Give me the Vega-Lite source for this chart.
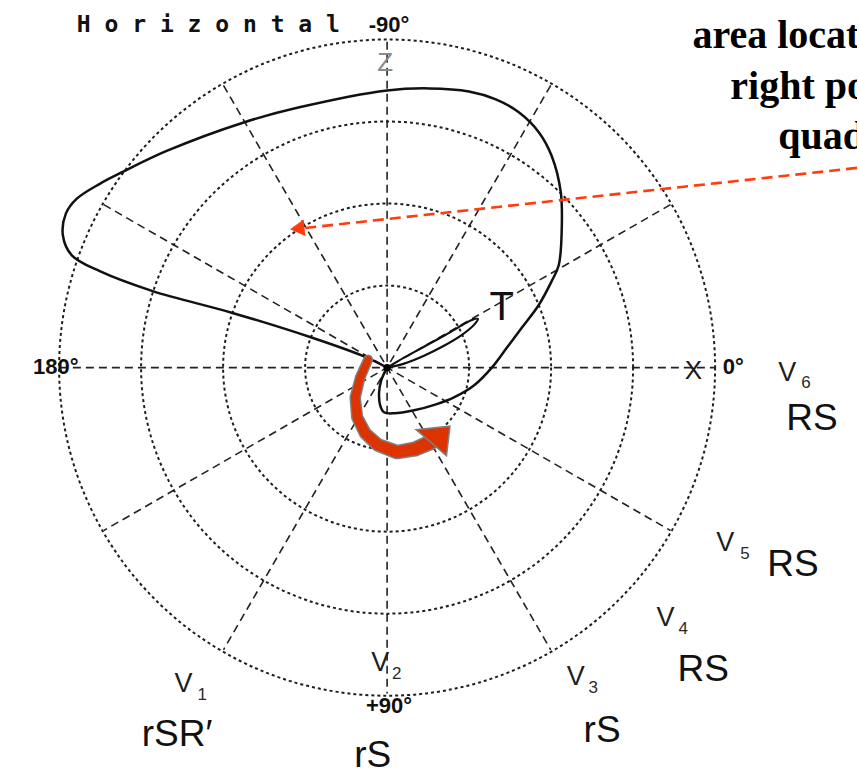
{
  "$schema": "https://vega.github.io/schema/vega-lite/v6.json",
  "width": 859,
  "height": 774,
  "autosize": {"type": "fit", "contains": "padding"},
  "padding": 0,
  "background": "white",
  "config": {"view": {"stroke": null}},
  "encoding": {
    "x": {"field": "x", "type": "quantitative", "axis": null,
          "scale": {"domain": [-4.732, 5.744], "nice": false, "zero": false}},
    "y": {"field": "y", "type": "quantitative", "axis": null,
          "scale": {"domain": [-4.512, 4.927], "reverse": true, "nice": false, "zero": false}}
  },
  "resolve": {"scale": {"size": "independent"}},
  "layer": [
    {
      "description": "Concentric magnitude rings",
      "data": {"values": [
        {"x": 0, "y": 0, "r": 1}, {"x": 0, "y": 0, "r": 2},
        {"x": 0, "y": 0, "r": 3}, {"x": 0, "y": 0, "r": 4}
      ]},
      "mark": {"type": "point", "shape": "circle", "filled": false, "stroke": "#1e1e1e",
               "strokeWidth": 2, "strokeDash": [3, 3], "opacity": 1},
      "encoding": {
        "size": {"field": "r", "type": "quantitative", "legend": null,
                 "scale": {"type": "pow", "exponent": 2, "domain": [0, 4], "range": [0, 430336]}}
      }
    },
    {
      "description": "Radial reference axes every 30 degrees",
      "data": {"values": [
        {"a": 0, "x": -4, "y": 0, "x2": 4, "y2": 0},
        {"a": 30, "x": -3.464, "y": -2, "x2": 3.464, "y2": 2},
        {"a": 60, "x": -2, "y": -3.464, "x2": 2, "y2": 3.464},
        {"a": 90, "x": 0, "y": -4, "x2": 0, "y2": 4},
        {"a": 120, "x": 2, "y": -3.464, "x2": -2, "y2": 3.464},
        {"a": 150, "x": 3.464, "y": -2, "x2": -3.464, "y2": 2}
      ]},
      "mark": {"type": "rule", "color": "#222222", "strokeWidth": 1.6, "strokeDash": [8, 5]},
      "encoding": {"x2": {"field": "x2"}, "y2": {"field": "y2"}}
    },
    {
      "description": "QRS loop",
      "data": {"values": [
        {"i": 1, "x": 0, "y": 0},
        {"i": 2, "x": -0.305, "y": -0.146},
        {"i": 3, "x": -0.915, "y": -0.366},
        {"i": 4, "x": -1.89, "y": -0.671},
        {"i": 5, "x": -2.866, "y": -0.939},
        {"i": 6, "x": -3.512, "y": -1.183},
        {"i": 7, "x": -3.854, "y": -1.378},
        {"i": 8, "x": -3.963, "y": -1.622},
        {"i": 9, "x": -3.927, "y": -1.89},
        {"i": 10, "x": -3.793, "y": -2.073},
        {"i": 11, "x": -3.512, "y": -2.256},
        {"i": 12, "x": -3.232, "y": -2.402},
        {"i": 13, "x": -2.695, "y": -2.659},
        {"i": 14, "x": -1.744, "y": -3.012},
        {"i": 15, "x": -1.073, "y": -3.195},
        {"i": 16, "x": 0, "y": -3.402},
        {"i": 17, "x": 0.512, "y": -3.427},
        {"i": 18, "x": 1.0, "y": -3.39},
        {"i": 19, "x": 1.329, "y": -3.293},
        {"i": 20, "x": 1.61, "y": -3.134},
        {"i": 21, "x": 1.854, "y": -2.89},
        {"i": 22, "x": 2.012, "y": -2.598},
        {"i": 23, "x": 2.122, "y": -2.159},
        {"i": 24, "x": 2.134, "y": -1.671},
        {"i": 25, "x": 2.098, "y": -1.256},
        {"i": 26, "x": 2.012, "y": -1.061},
        {"i": 27, "x": 1.854, "y": -0.768},
        {"i": 28, "x": 1.646, "y": -0.488},
        {"i": 29, "x": 1.463, "y": -0.244},
        {"i": 30, "x": 1.28, "y": 0},
        {"i": 31, "x": 1.061, "y": 0.22},
        {"i": 32, "x": 0.817, "y": 0.366},
        {"i": 33, "x": 0.598, "y": 0.451},
        {"i": 34, "x": 0.329, "y": 0.524},
        {"i": 35, "x": 0.085, "y": 0.561},
        {"i": 36, "x": -0.037, "y": 0.549},
        {"i": 37, "x": -0.085, "y": 0.463},
        {"i": 38, "x": -0.098, "y": 0.305},
        {"i": 39, "x": -0.073, "y": 0.159},
        {"i": 40, "x": 0, "y": 0}
      ]},
      "mark": {"type": "line", "color": "#111111", "strokeWidth": 2.5, "interpolate": "catmull-rom"},
      "encoding": {"order": {"field": "i", "type": "quantitative"}}
    },
    {
      "description": "T loop",
      "data": {"values": [
        {"i": 1, "x": 0, "y": 0},
        {"i": 2, "x": 0.207, "y": -0.122},
        {"i": 3, "x": 0.451, "y": -0.256},
        {"i": 4, "x": 0.695, "y": -0.39},
        {"i": 5, "x": 0.902, "y": -0.512},
        {"i": 6, "x": 1.037, "y": -0.585},
        {"i": 7, "x": 1.11, "y": -0.598},
        {"i": 8, "x": 1.073, "y": -0.537},
        {"i": 9, "x": 0.915, "y": -0.402},
        {"i": 10, "x": 0.695, "y": -0.268},
        {"i": 11, "x": 0.451, "y": -0.146},
        {"i": 12, "x": 0.207, "y": -0.049},
        {"i": 13, "x": 0, "y": 0}
      ]},
      "mark": {"type": "line", "color": "#111111", "strokeWidth": 2.2, "interpolate": "catmull-rom"},
      "encoding": {"order": {"field": "i", "type": "quantitative"}}
    },
    {
      "description": "Origin",
      "data": {"values": [{"x": 0, "y": 0}]},
      "mark": {"type": "point", "shape": "circle", "filled": true, "color": "#000000", "size": 55, "opacity": 1}
    },
    {
      "description": "Pointer to the loop area",
      "data": {"values": [{"x": 5.744, "y": -2.451, "x2": -1.012, "y2": -1.713}]},
      "mark": {"type": "rule", "color": "#ff3b0f", "strokeWidth": 2.6, "strokeDash": [11, 6]},
      "encoding": {"x2": {"field": "x2"}, "y2": {"field": "y2"}}
    },
    {
      "data": {"values": [{"x": -1.098, "y": -1.707}]},
      "mark": {"type": "point", "shape": "triangle-left", "filled": true, "color": "#ff3b0f",
               "size": 280, "angle": 354, "opacity": 1}
    },
    {
      "description": "Rotation arrow outline",
      "data": {"name": "turn", "values": [
        {"i": 1, "x": -0.232, "y": -0.098},
        {"i": 2, "x": -0.329, "y": 0.122},
        {"i": 3, "x": -0.39, "y": 0.366},
        {"i": 4, "x": -0.366, "y": 0.61},
        {"i": 5, "x": -0.268, "y": 0.805},
        {"i": 6, "x": -0.11, "y": 0.951},
        {"i": 7, "x": 0.122, "y": 1.037},
        {"i": 8, "x": 0.341, "y": 1.0},
        {"i": 9, "x": 0.537, "y": 0.915}
      ]},
      "mark": {"type": "trail", "color": "#7f7f7f"},
      "encoding": {
        "order": {"field": "i", "type": "quantitative"},
        "size": {"field": "i", "type": "quantitative", "legend": null,
                 "scale": {"domain": [1, 9], "range": [10, 16]}}
      }
    },
    {
      "data": {"name": "turn"},
      "mark": {"type": "trail", "color": "#dd3300"},
      "encoding": {
        "order": {"field": "i", "type": "quantitative"},
        "size": {"field": "i", "type": "quantitative", "legend": null,
                 "scale": {"domain": [1, 9], "range": [7, 13]}}
      }
    },
    {
      "data": {"values": [{"x": 0.634, "y": 0.854}]},
      "mark": {"type": "point", "shape": "M -0.92 -0.3 L 0.44 -0.44 L 0.3 0.74 Z", "filled": true,
               "fill": "#dd3300", "stroke": "#7f7f7f", "strokeWidth": 1.5, "size": 2500, "opacity": 1}
    },
    {
      "description": "Plane title",
      "data": {"values": [{"x": -3.793, "y": -4.122, "t": "H o r i z o n t a l"}]},
      "mark": {"type": "text", "align": "left", "baseline": "alphabetic", "font": "DejaVu Sans Mono",
               "fontWeight": "bold", "fontSize": 23, "color": "#111111"},
      "encoding": {"text": {"field": "t"}}
    },
    {
      "description": "Angle labels",
      "data": {"values": [
        {"x": 0.024, "y": -4.122, "t": "-90°", "a": "center"},
        {"x": -4.049, "y": 0.073, "t": "180°", "a": "right"},
        {"x": 4.232, "y": 0.073, "t": "0°", "a": "left"},
        {"x": 0.024, "y": 4.244, "t": "+90°", "a": "center"}
      ]},
      "mark": {"type": "text", "baseline": "alphabetic", "font": "Liberation Sans",
               "fontWeight": "bold", "fontSize": 22, "color": "#111111"},
      "encoding": {"text": {"field": "t"}, "align": {"field": "a"}}
    },
    {
      "description": "Axis letters",
      "data": {"values": [
        {"x": -0.024, "y": -3.646, "t": "Z", "c": "z"},
        {"x": 3.744, "y": 0.146, "t": "X", "c": "x"}
      ]},
      "mark": {"type": "text", "align": "center", "baseline": "alphabetic", "font": "Liberation Sans",
               "fontSize": 26},
      "encoding": {
        "text": {"field": "t"},
        "color": {"field": "c", "type": "nominal", "legend": null,
                  "scale": {"domain": ["z", "x"], "range": ["#8a8a8a", "#1a1a1a"]}}
      }
    },
    {
      "data": {"values": [{"x": 1.402, "y": -0.585, "t": "T"}]},
      "mark": {"type": "text", "align": "center", "baseline": "alphabetic", "font": "Liberation Sans",
               "fontSize": 40, "color": "#111111"},
      "encoding": {"text": {"field": "t"}}
    },
    {
      "description": "Callout text",
      "data": {"values": [
        {"x": 3.732, "y": -3.927, "t": "area located in the"},
        {"x": 4.195, "y": -3.293, "t": "right posterior"},
        {"x": 4.78, "y": -2.683, "t": "quadrant"}
      ]},
      "mark": {"type": "text", "align": "left", "baseline": "alphabetic", "font": "Liberation Serif",
               "fontWeight": "bold", "fontSize": 40, "color": "#000000", "clip": true},
      "encoding": {"text": {"field": "t"}}
    },
    {
      "description": "Precordial lead names",
      "data": {"values": [
        {"x": 4.78, "y": 0.159, "t": "V"},
        {"x": 4.024, "y": 2.256, "t": "V"},
        {"x": 3.293, "y": 3.171, "t": "V"},
        {"x": 2.195, "y": 3.902, "t": "V"},
        {"x": -0.195, "y": 3.72, "t": "V"},
        {"x": -2.598, "y": 3.988, "t": "V"}
      ]},
      "mark": {"type": "text", "align": "left", "baseline": "alphabetic", "font": "Liberation Sans",
               "fontSize": 27, "color": "#1e1e1e"},
      "encoding": {"text": {"field": "t"}}
    },
    {
      "data": {"values": [
        {"x": 5.061, "y": 0.256, "t": "6"},
        {"x": 4.317, "y": 2.354, "t": "5"},
        {"x": 3.561, "y": 3.268, "t": "4"},
        {"x": 2.463, "y": 4.0, "t": "3"},
        {"x": 0.061, "y": 3.817, "t": "2"},
        {"x": -2.317, "y": 4.085, "t": "1"}
      ]},
      "mark": {"type": "text", "align": "left", "baseline": "alphabetic", "font": "Liberation Sans",
               "fontSize": 17, "color": "#2a2a2a"},
      "encoding": {"text": {"field": "t"}}
    },
    {
      "description": "QRS morphology per lead",
      "data": {"values": [
        {"x": 4.878, "y": 0.768, "t": "RS"},
        {"x": 4.646, "y": 2.561, "t": "RS"},
        {"x": 3.549, "y": 3.841, "t": "RS"},
        {"x": 2.402, "y": 4.598, "t": "rS"},
        {"x": -0.402, "y": 4.902, "t": "rS"},
        {"x": -3.0, "y": 4.646, "t": "rSR′"}
      ]},
      "mark": {"type": "text", "align": "left", "baseline": "alphabetic", "font": "Liberation Sans",
               "fontSize": 37, "color": "#111111"},
      "encoding": {"text": {"field": "t"}}
    }
  ]
}
